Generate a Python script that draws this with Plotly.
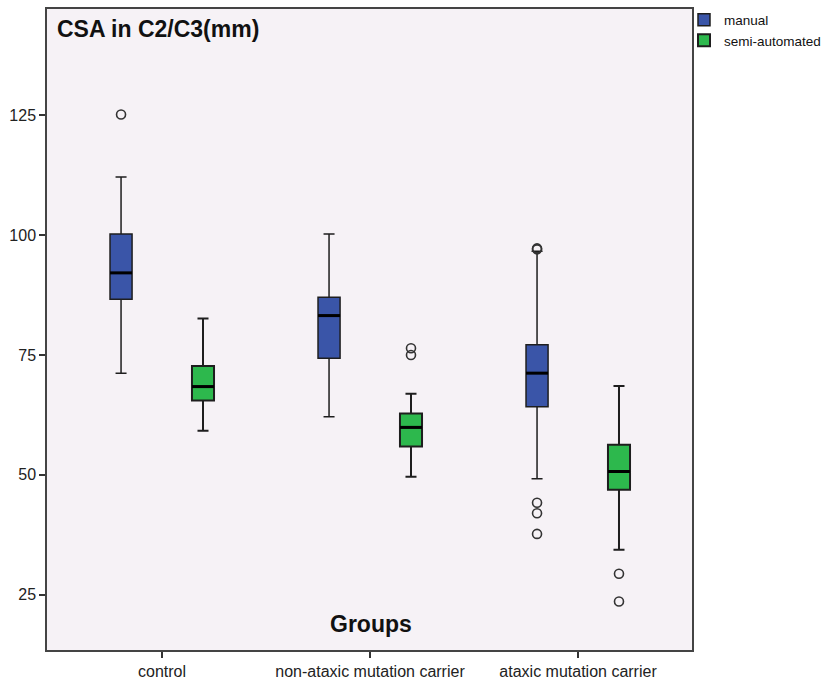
import plotly.graph_objects as go

categories = ["control", "non-ataxic mutation carrier", "ataxic mutation carrier"]

# manual
man_low = [71.2, 62.1, 49.2]
man_q1 = [86.6, 74.3, 64.2]
man_med = [92.1, 83.2, 71.2]
man_q3 = [100.2, 87.0, 77.1]
man_up = [112.1, 100.2, 96.6]
man_out = [[125.1], [], [97.0, 97.2, 44.2, 42.0, 37.7]]

# semi-automated
semi_low = [59.2, 49.6, 34.4]
semi_q1 = [65.5, 55.9, 46.9]
semi_med = [68.4, 59.9, 50.7]
semi_q3 = [72.7, 62.8, 56.3]
semi_up = [82.6, 66.9, 68.5]
semi_out = [[], [76.4, 75.0], [29.4, 23.6]]

y_ticks = [25, 50, 75, 100, 125]

OFF = 0.197
BW = 0.106

cat_pos = list(range(len(categories)))
man_x = [i - OFF for i in cat_pos]
semi_x = [i + OFF for i in cat_pos]

BLUE = "#3A55A8"
GREEN = "#2DB84D"

fig = go.Figure()

def add_series(name, xs, low, q1, med, q3, up, outs, color, lw):
    fig.add_trace(go.Box(
        name=name, x=xs, lowerfence=low, q1=q1, median=med, q3=q3, upperfence=up,
        width=BW, whiskerwidth=0.5, fillcolor=color,
        line=dict(color="#1e1e1e", width=lw), boxpoints=False, showlegend=True,
        legendgroup=name,
    ))
    ox, oy = [], []
    for x, o in zip(xs, outs):
        for v in o:
            ox.append(x)
            oy.append(v)
    fig.add_trace(go.Scatter(
        x=ox, y=oy, mode="markers", showlegend=False, legendgroup=name,
        marker=dict(symbol="circle-open", size=9, color="#333333", line=dict(width=1.6)),
    ))
    for x, m in zip(xs, med):
        fig.add_shape(type="line", x0=x - BW / 2, x1=x + BW / 2, y0=m, y1=m,
                      line=dict(color="black", width=3), xref="x", yref="y")

add_series("manual", man_x, man_low, man_q1, man_med, man_q3, man_up, man_out, BLUE, 1.5)
add_series("semi-automated", semi_x, semi_low, semi_q1, semi_med, semi_q3, semi_up, semi_out, GREEN, 2)

font_family = "Liberation Sans, Arial, sans-serif"

fig.update_layout(
    width=828, height=679,
    margin=dict(l=47, r=136, t=9, b=29, autoexpand=False),
    paper_bgcolor="white",
    plot_bgcolor="#F6F2F6",
    font=dict(family=font_family, size=14, color="#222222"),
    showlegend=True,
    legend=dict(x=0.9876, y=1.007, xanchor="left", yanchor="top",
                font=dict(size=13.5, color="#111111"), bgcolor="rgba(0,0,0,0)",
                tracegroupgap=0, itemwidth=30),
    xaxis=dict(range=[-0.553, 2.548], tickmode="array", tickvals=cat_pos,
               ticktext=categories, ticks="outside", ticklen=6, tickwidth=1.5,
               tickcolor="#333333", showgrid=False, zeroline=False,
               showline=True, linecolor="#444444", linewidth=1.5, mirror=True,
               automargin=False, tickfont=dict(size=16, color="#222222")),
    yaxis=dict(range=[13.5, 147.1], tickmode="array", tickvals=y_ticks,
               ticks="outside", ticklen=6, tickwidth=1.5, tickcolor="#333333",
               showgrid=False, zeroline=False, showline=True,
               linecolor="#444444", linewidth=1.5, mirror=True,
               automargin=False, tickfont=dict(size=16, color="#222222")),
    annotations=[
        dict(text="<b>CSA in C2/C3(mm)</b>", xref="paper", yref="paper",
             x=0.012, y=0.992, xanchor="left", yanchor="top", showarrow=False,
             font=dict(size=23, color="#111111", family=font_family)),
        dict(text="<b>Groups</b>", xref="paper", yref="paper",
             x=0.503, y=0.04, xanchor="center", yanchor="middle", showarrow=False,
             font=dict(size=23, color="#111111", family=font_family)),
    ],
)

fig.write_html("out.html")
